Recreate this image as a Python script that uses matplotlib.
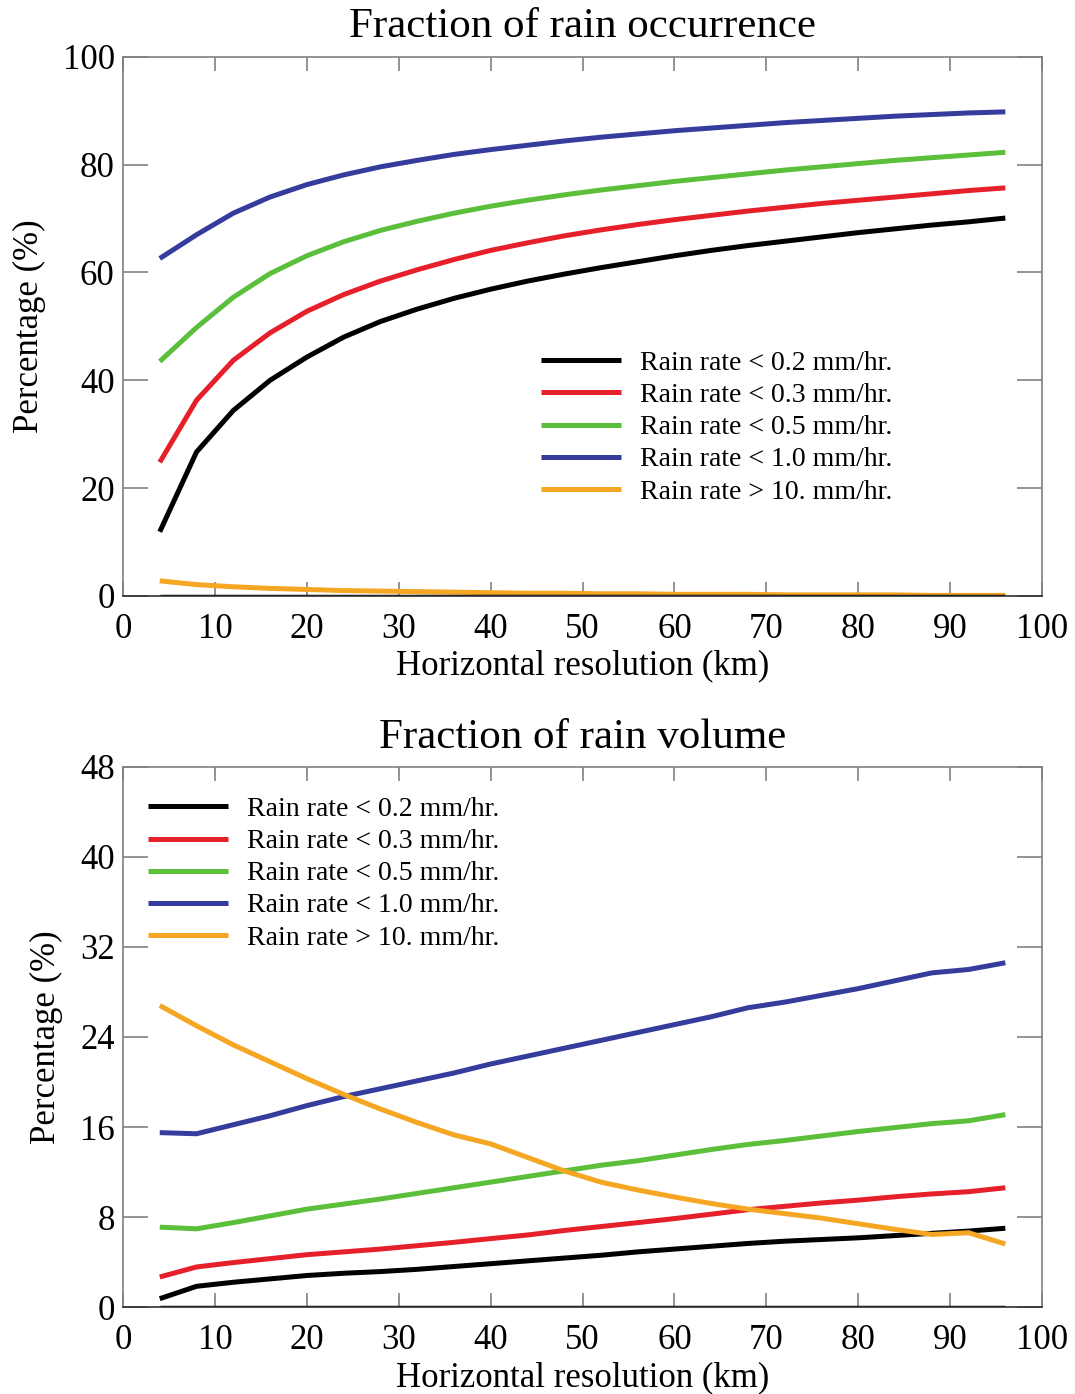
import numpy as np
import matplotlib
matplotlib.use("Agg")
import matplotlib.pyplot as plt

plt.rcParams['font.family'] = ['Liberation Serif', 'DejaVu Serif']

# horizontal resolution (km)
res_km = [4, 8, 12, 16, 20, 24, 28, 32, 36, 40, 44, 48,
          52, 56, 60, 64, 68, 72, 76, 80, 84, 88, 92, 96]

labels = ['Rain rate < 0.2 mm/hr.', 'Rain rate < 0.3 mm/hr.',
          'Rain rate < 0.5 mm/hr.', 'Rain rate < 1.0 mm/hr.',
          'Rain rate > 10. mm/hr.']
colors = ['#000000', '#e6202a', '#5cbf3c', '#353c9c', '#f5a623']

# fraction of rain occurrence (%)
occ_02 = [11.9, 26.7, 34.4, 40.0, 44.3, 48.0, 50.9, 53.2, 55.2, 56.9, 58.4, 59.7,
          60.9, 62.0, 63.1, 64.1, 65.0, 65.8, 66.6, 67.4, 68.1, 68.8, 69.4, 70.1]
occ_03 = [24.8, 36.3, 43.7, 48.8, 52.8, 55.9, 58.4, 60.5, 62.4, 64.1, 65.5, 66.8,
          67.9, 68.9, 69.8, 70.6, 71.4, 72.1, 72.8, 73.4, 74.0, 74.6, 75.2, 75.7]
occ_05 = [43.5, 49.8, 55.4, 59.8, 63.1, 65.7, 67.8, 69.5, 71.0, 72.3, 73.4, 74.4,
          75.3, 76.1, 76.9, 77.6, 78.3, 79.0, 79.6, 80.2, 80.8, 81.3, 81.8, 82.3]
occ_10 = [62.6, 67.0, 71.0, 74.0, 76.3, 78.1, 79.6, 80.8, 81.9, 82.8, 83.6, 84.4,
          85.1, 85.7, 86.3, 86.8, 87.3, 87.8, 88.2, 88.6, 89.0, 89.3, 89.6, 89.8]
occ_gt10 = [2.8, 2.1, 1.7, 1.4, 1.2, 1.0, 0.9, 0.8, 0.7, 0.6, 0.5, 0.5,
            0.4, 0.4, 0.3, 0.3, 0.3, 0.2, 0.2, 0.2, 0.2, 0.1, 0.1, 0.1]

# fraction of rain volume (%)
vol_02 = [0.74, 1.84, 2.2, 2.5, 2.8, 3.0, 3.15, 3.35, 3.6, 3.85, 4.1, 4.35,
          4.6, 4.9, 5.15, 5.4, 5.65, 5.85, 6.0, 6.15, 6.35, 6.55, 6.75, 7.0]
vol_03 = [2.67, 3.56, 3.95, 4.3, 4.65, 4.9, 5.15, 5.45, 5.75, 6.08, 6.4, 6.8,
          7.15, 7.5, 7.86, 8.25, 8.65, 8.95, 9.25, 9.5, 9.8, 10.05, 10.25, 10.6]
vol_05 = [7.1, 6.95, 7.5, 8.1, 8.7, 9.15, 9.6, 10.1, 10.6, 11.1, 11.6, 12.1,
          12.6, 13.0, 13.5, 14.0, 14.45, 14.8, 15.2, 15.6, 15.95, 16.3, 16.55, 17.1]
vol_10 = [15.5, 15.4, 16.2, 17.0, 17.9, 18.7, 19.4, 20.1, 20.8, 21.6, 22.3, 23.0,
          23.7, 24.4, 25.1, 25.8, 26.6, 27.1, 27.7, 28.3, 29.0, 29.7, 30.0, 30.6]
vol_gt10 = [26.8, 25.0, 23.3, 21.8, 20.3, 18.9, 17.6, 16.4, 15.3, 14.5, 13.3, 12.1,
            11.1, 10.4, 9.78, 9.2, 8.7, 8.3, 7.9, 7.4, 6.9, 6.45, 6.6, 5.6]

occ = [occ_02, occ_03, occ_05, occ_10, occ_gt10]
vol = [vol_02, vol_03, vol_05, vol_10, vol_gt10]

fig = plt.figure(figsize=(10.75, 13.94), dpi=100)
ax1 = fig.add_axes([0.1144, 0.5725, 0.855, 0.3867])
ax2 = fig.add_axes([0.1144, 0.0624, 0.855, 0.3874])


def style(ax, ymax, ystep, title):
    ax.set_xlim(0, 100)
    ax.set_ylim(0, ymax)
    ax.set_xticks(np.arange(0, 101, 10))
    ax.set_yticks(np.arange(0, ymax + 1, ystep))
    ax.tick_params(axis='x', direction='in', length=10, width=1.2, color='#808080',
                   top=True, labelsize=25, pad=12)
    ax.tick_params(axis='y', direction='in', length=18, width=1.2, color='#808080',
                   right=True, labelsize=25, pad=6)
    for s in ax.spines.values():
        s.set_color('#808080')
        s.set_linewidth(1.2)
    ax.spines['bottom'].set_color('#303030')
    ax.set_xlabel('Horizontal resolution (km)', fontsize=25, labelpad=3)
    ax.set_ylabel('Percentage (%)', fontsize=25, labelpad=12)
    ax.set_title(title, fontsize=31, pad=14)


for vals, c, lab in zip(occ, colors, labels):
    ax1.plot(res_km, vals, color=c, lw=3.6, label=lab, solid_capstyle='butt')
ax1.hlines(0, res_km[0], res_km[-1], color='black', lw=2.5)
style(ax1, 100, 20, 'Fraction of rain occurrence')
ax1.legend(loc='upper left', bbox_to_anchor=(0.455, 0.455), frameon=False,
           fontsize=20, handlelength=2.88, handletextpad=0.68,
           labelspacing=0.24, borderpad=0, borderaxespad=0)

for vals, c, lab in zip(vol, colors, labels):
    ax2.plot(res_km, vals, color=c, lw=3.6, label=lab, solid_capstyle='butt')
ax2.hlines(0, res_km[0], res_km[-1], color='black', lw=2.5)
style(ax2, 48, 8, 'Fraction of rain volume')
ax2.legend(loc='upper left', bbox_to_anchor=(0.027, 0.945), frameon=False,
           fontsize=20, handlelength=2.88, handletextpad=0.68,
           labelspacing=0.24, borderpad=0, borderaxespad=0)

fig.savefig('out.png', dpi=100)
